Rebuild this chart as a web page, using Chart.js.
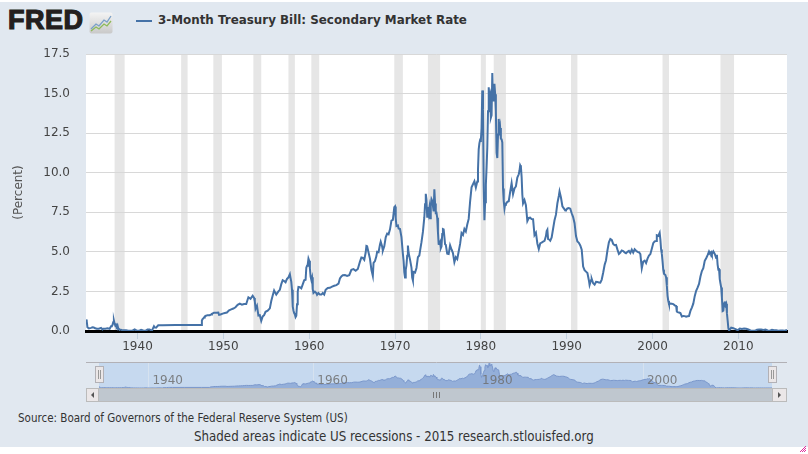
<!DOCTYPE html>
<html>
<head>
<meta charset="utf-8">
<title>3-Month Treasury Bill</title>
<script src="https://cdn.jsdelivr.net/npm/chart.js@4.4.0/dist/chart.umd.min.js"></script>
<style>
  body { margin: 0; background: #fff; width: 808px; height: 454px; overflow: hidden; position: relative; }
  #bg { position: absolute; left: 0; top: 2px; width: 808px; height: 445px; background: #e1e8f0; }
  #main { position: absolute; left: 0; top: 0; }
  #nav { position: absolute; left: 86px; top: 362px; }
  .txt { position: absolute; white-space: nowrap; color: #333; }
</style>
</head>
<body>
<div id="bg"></div>

<div class="txt" style="left:8px;top:5px;font-family:'Liberation Sans';font-weight:bold;font-size:27px;color:#231f20;letter-spacing:0.5px;-webkit-text-stroke:1.2px #231f20">FRED</div>
<svg style="position:absolute;left:89px;top:12px" width="24" height="22">
  <defs><linearGradient id="g" x1="0" y1="0" x2="0" y2="1"><stop offset="0" stop-color="#f4f4f4"/><stop offset="1" stop-color="#c9c9c9"/></linearGradient></defs>
  <rect x="0.5" y="0.5" width="23" height="21" rx="2" fill="url(#g)"/>
  <polyline points="2,17 7,12 10,14 15,8 18,10 22,4" fill="none" stroke="#7aa0c8" stroke-width="1.3"/>
  <polyline points="2,19 7,15 10,17 15,12 18,14 22,9" fill="none" stroke="#8dba5a" stroke-width="1.3"/>
</svg>
<div style="position:absolute;left:136px;top:20px;width:16px;height:2px;background:#4572a7"></div>
<div class="txt" style="left:158px;top:13px;font:bold 11.9px 'DejaVu Sans';color:#333">3-Month Treasury Bill: Secondary Market Rate</div>

<canvas id="main" width="808" height="362"></canvas>
<canvas id="nav" width="701" height="41"></canvas>

<div class="txt" style="left:18px;top:411px;font:11.5px 'DejaVu Sans Condensed';color:#333">Source: Board of Governors of the Federal Reserve System (US)</div>
<div class="txt" style="left:194px;top:429px;font:13.2px 'DejaVu Sans Condensed';color:#333">Shaded areas indicate US recessions - 2015 research.stlouisfed.org</div>
<svg style="position:absolute;left:799px;top:445px" width="8" height="8">
  <path d="M1,7 L7,1 M3,7 L7,3 M5,7 L7,5" stroke="#e0309a" stroke-width="1"/>
</svg>

<script>
// monthly readings (YYYY-MM) and rates in percent
const dates = [
 '1934-01','1934-02','1934-03','1934-05','1934-08','1934-10','1934-12',
 '1935-01','1935-04','1935-07','1935-10','1935-12',
 '1936-01','1936-04','1936-07','1936-10','1936-12',
 '1937-01','1937-02','1937-03','1937-04','1937-05','1937-06','1937-07','1937-08','1937-09','1937-10','1937-11','1937-12',
 '1938-03','1938-06','1938-09','1938-12','1939-03','1939-06','1939-09','1939-12',
 '1940-03','1940-06','1940-09','1940-12','1941-03','1941-06','1941-09','1941-12',
 '1942-01','1942-03','1942-06','1942-08','1942-12','1944-06','1946-06','1947-06',
 '1947-07','1947-08','1947-09','1947-10','1947-11','1947-12',
 '1948-03','1948-06','1948-08','1948-09','1948-12',
 '1949-03','1949-06','1949-07','1949-09','1949-12',
 '1950-03','1950-06','1950-09','1950-12','1951-03','1951-06','1951-09','1951-12',
 '1952-03','1952-06','1952-09','1952-12','1953-03','1953-06','1953-08','1953-09','1953-10','1953-12',
 '1954-02','1954-04','1954-06','1954-08','1954-10','1954-12',
 '1955-03','1955-06','1955-08','1955-10','1955-12','1956-03','1956-06','1956-08','1956-10','1956-12',
 '1957-02','1957-04','1957-06','1957-08','1957-10','1957-11','1957-12',
 '1958-01','1958-02','1958-03','1958-04','1958-05','1958-06','1958-07','1958-08','1958-09','1958-10','1958-12',
 '1959-02','1959-04','1959-06','1959-08','1959-09','1959-10','1959-11','1959-12',
 '1960-01','1960-02','1960-03','1960-04','1960-05','1960-06','1960-07','1960-09','1960-11','1960-12',
 '1961-02','1961-04','1961-06','1961-08','1961-10','1961-12','1962-03','1962-06','1962-09','1962-12',
 '1963-03','1963-06','1963-08','1963-10','1963-12','1964-03','1964-06','1964-09','1964-12',
 '1965-03','1965-06','1965-09','1965-12','1966-02','1966-04','1966-06','1966-08','1966-09','1966-10','1966-12',
 '1967-02','1967-04','1967-06','1967-07','1967-09','1967-11','1967-12',
 '1968-02','1968-04','1968-05','1968-07','1968-08','1968-10','1968-12',
 '1969-02','1969-04','1969-06','1969-08','1969-10','1969-12',
 '1970-01','1970-02','1970-03','1970-05','1970-06','1970-08','1970-10','1970-12',
 '1971-01','1971-02','1971-03','1971-04','1971-05','1971-06','1971-07','1971-08','1971-10','1971-12',
 '1972-01','1972-02','1972-03','1972-05','1972-07','1972-09','1972-11','1972-12',
 '1973-02','1973-04','1973-06','1973-07','1973-08','1973-09','1973-10','1973-11','1973-12',
 '1974-01','1974-02','1974-03','1974-04','1974-05','1974-06','1974-07','1974-08','1974-09','1974-10','1974-11','1974-12',
 '1975-01','1975-02','1975-03','1975-04','1975-05','1975-06','1975-07','1975-08','1975-09','1975-10','1975-11','1975-12',
 '1976-02','1976-04','1976-06','1976-08','1976-10','1976-12','1977-02','1977-04','1977-06','1977-08','1977-10','1977-12',
 '1978-02','1978-04','1978-06','1978-08','1978-10','1978-12',
 '1979-02','1979-04','1979-06','1979-08','1979-09','1979-10','1979-11','1979-12',
 '1980-01','1980-02','1980-03','1980-04','1980-05','1980-06','1980-07','1980-08','1980-09','1980-10','1980-11','1980-12',
 '1981-01','1981-02','1981-03','1981-04','1981-05','1981-06','1981-07','1981-08','1981-09','1981-10','1981-11','1981-12',
 '1982-01','1982-02','1982-03','1982-04','1982-05','1982-06','1982-07','1982-08','1982-09','1982-10','1982-11','1982-12',
 '1983-02','1983-04','1983-06','1983-08','1983-10','1983-12',
 '1984-02','1984-04','1984-06','1984-07','1984-08','1984-09','1984-10','1984-11','1984-12',
 '1985-02','1985-04','1985-06','1985-08','1985-10','1985-12','1986-02','1986-04','1986-06','1986-08','1986-10','1986-12',
 '1987-02','1987-04','1987-06','1987-08','1987-09','1987-10','1987-11','1987-12',
 '1988-02','1988-04','1988-06','1988-08','1988-10','1988-12',
 '1989-02','1989-03','1989-05','1989-07','1989-09','1989-11','1989-12',
 '1990-02','1990-04','1990-06','1990-08','1990-10','1990-12','1991-02','1991-04','1991-06','1991-08','1991-10','1991-12',
 '1992-02','1992-04','1992-06','1992-08','1992-09','1992-11','1992-12','1993-02','1993-04','1993-06','1993-08','1993-10','1993-12',
 '1994-02','1994-04','1994-06','1994-08','1994-10','1994-12','1995-02','1995-04','1995-06','1995-08','1995-10','1995-12',
 '1996-02','1996-04','1996-06','1996-08','1996-10','1996-12','1997-02','1997-04','1997-06','1997-08','1997-10','1997-12',
 '1998-02','1998-04','1998-06','1998-08','1998-10','1998-12','1999-02','1999-04','1999-06','1999-08','1999-10','1999-12',
 '2000-02','2000-04','2000-06','2000-07','2000-09','2000-11','2000-12',
 '2001-01','2001-02','2001-03','2001-04','2001-05','2001-07','2001-08','2001-09','2001-10','2001-11','2001-12',
 '2002-02','2002-04','2002-06','2002-08','2002-10','2002-11','2002-12','2003-02','2003-04','2003-06','2003-08','2003-10','2003-12',
 '2004-02','2004-04','2004-06','2004-08','2004-10','2004-12','2005-02','2005-04','2005-06','2005-08','2005-10','2005-12',
 '2006-02','2006-04','2006-06','2006-08','2006-09','2006-11','2006-12',
 '2007-02','2007-04','2007-06','2007-07','2007-08','2007-09','2007-10','2007-11','2007-12',
 '2008-01','2008-02','2008-03','2008-04','2008-05','2008-06','2008-07','2008-08','2008-09','2008-10','2008-11','2008-12',
 '2009-03','2009-06','2009-09','2009-12','2010-03','2010-06','2010-09','2010-12','2011-03','2011-06','2011-09','2011-12',
 '2012-03','2012-06','2012-09','2012-12','2013-03','2013-06','2013-09','2013-12','2014-03','2014-06','2014-09','2014-12',
 '2015-03','2015-06','2015-09'
];
const rates = [
 0.72,0.62,0.24,0.16,0.20,0.23,0.22,
 0.19,0.15,0.15,0.20,0.10,
 0.15,0.15,0.17,0.14,0.30,
 0.31,0.38,0.55,0.66,0.46,0.34,0.40,0.29,0.37,0.18,0.12,0.10,
 0.07,0.05,0.04,0.01,0.01,0.02,0.10,0.02,
 0.01,0.08,0.03,0.01,0.09,0.10,0.01,0.30,
 0.23,0.21,0.36,0.37,0.36,0.375,0.375,0.38,
 0.66,0.75,0.80,0.85,0.92,0.95,
 1.00,1.00,1.05,1.09,1.16,
 1.16,1.17,1.02,1.04,1.10,
 1.14,1.17,1.31,1.37,1.42,1.50,1.65,1.73,
 1.66,1.70,1.71,2.13,2.03,2.23,2.09,1.88,1.40,1.60,
 0.98,1.00,0.64,0.92,1.00,1.21,
 1.28,1.43,1.89,2.24,2.56,2.30,2.50,2.60,2.96,3.21,
 3.16,3.08,3.29,3.38,3.59,3.33,3.10,
 2.60,1.56,1.30,1.13,1.05,0.88,0.96,1.69,2.48,2.79,2.77,
 2.70,2.95,3.20,3.24,4.00,4.12,4.21,4.57,
 4.44,3.95,3.44,3.24,3.39,2.64,2.40,2.49,2.39,2.29,
 2.40,2.30,2.30,2.40,2.30,2.60,2.72,2.73,2.80,2.86,
 2.90,2.99,3.32,3.45,3.52,3.54,3.48,3.53,3.86,
 3.91,3.81,3.92,4.38,4.65,4.62,4.50,4.96,5.37,5.35,4.96,
 4.56,3.87,3.48,4.31,4.42,4.73,5.01,
 4.98,5.47,5.64,5.34,5.08,5.35,5.92,
 6.15,6.11,6.42,6.97,7.02,7.82,
 7.87,7.13,6.63,6.67,6.48,6.44,5.93,4.87,
 4.44,3.70,3.38,3.86,4.14,4.75,5.40,4.94,4.51,4.01,
 3.38,3.20,3.73,3.69,3.98,4.66,4.77,5.06,
 5.61,6.26,7.19,8.01,8.67,8.29,7.22,7.83,7.45,
 7.77,7.12,7.96,8.33,8.23,7.90,7.55,8.96,8.06,7.46,7.47,7.15,
 6.26,5.50,5.49,5.61,5.23,5.34,6.13,6.44,6.42,5.96,5.48,5.44,
 4.88,4.86,5.41,5.15,4.92,4.35,4.66,4.54,5.02,5.50,6.19,6.07,
 6.45,6.29,6.73,7.08,8.19,9.08,
 9.27,9.46,9.06,9.45,10.18,11.47,11.87,12.07,
 12.04,12.81,15.20,14.00,9.15,7.00,8.13,9.26,10.32,11.58,13.89,15.40,
 14.72,14.90,13.48,13.63,16.30,14.56,14.70,15.61,14.95,13.87,11.27,10.93,
 12.41,13.40,12.49,12.82,12.15,12.11,11.91,9.01,8.20,7.75,8.04,8.01,
 8.16,8.20,8.79,9.34,8.64,9.00,
 9.13,9.69,9.90,10.12,10.47,10.37,9.74,8.61,8.06,
 8.27,7.95,6.95,7.14,7.16,7.07,7.06,6.06,6.21,5.53,5.18,5.53,
 5.59,5.64,5.69,6.00,6.32,6.40,5.81,5.80,
 5.70,5.91,6.46,7.00,7.35,8.07,
 8.53,8.82,8.43,7.88,7.75,7.62,7.64,
 7.74,7.77,7.73,7.44,7.20,6.81,6.00,5.65,5.57,5.40,5.14,4.07,
 3.84,3.75,3.66,3.21,2.91,3.21,3.29,3.02,2.93,3.10,3.09,3.07,3.06,
 3.25,3.68,4.17,4.47,5.10,5.60,5.81,5.75,5.50,5.42,5.44,5.14,
 4.87,4.95,5.09,5.05,4.97,4.91,5.00,5.06,4.93,5.14,4.95,5.16,
 5.07,5.00,4.98,4.86,3.96,4.39,4.45,4.29,4.57,4.76,4.86,5.20,
 5.55,5.66,5.69,6.04,6.00,6.20,5.77,
 5.15,4.88,4.42,3.87,3.62,3.54,3.39,2.87,2.22,1.91,1.72,
 1.73,1.72,1.70,1.62,1.58,1.23,1.19,1.17,1.13,0.92,0.95,0.94,0.90,
 0.93,0.94,1.27,1.48,1.73,2.20,2.54,2.74,2.97,3.44,3.79,3.97,
 4.43,4.60,4.79,5.02,4.93,5.00,4.85,
 5.03,4.87,4.61,4.82,4.20,3.89,3.90,3.27,3.00,
 2.75,2.12,1.26,1.29,1.73,1.86,1.63,1.72,1.13,0.67,0.19,0.03,
 0.21,0.18,0.12,0.05,0.15,0.12,0.15,0.14,0.10,0.04,0.01,0.01,
 0.08,0.09,0.10,0.07,0.09,0.04,0.02,0.07,0.05,0.04,0.02,0.03,
 0.03,0.02,0.07
];

// NBER recessions, start / end month
const recessionStarts = ['1937-05','1945-02','1948-11','1953-07','1957-08','1960-04','1969-12','1973-11','1980-01','1981-07','1990-07','2001-03','2007-12'];
const recessionEnds   = ['1938-06','1945-10','1949-10','1954-05','1958-04','1961-02','1970-11','1975-03','1980-07','1982-11','1991-03','2001-11','2009-06'];

const xTicks = [1940, 1950, 1960, 1970, 1980, 1990, 2000, 2010];
const yTicks = [0, 2.5, 5, 7.5, 10, 12.5, 15, 17.5];
const navTicks = [1940, 1960, 1980, 2000];

function toYear(s) {
  const p = s.split('-');
  return +p[0] + (+p[1] - 1) / 12;
}
const points = dates.map((d, i) => ({ x: toYear(d), y: rates[i] }));
const xMin = toYear(dates[0]);
const xMax = toYear(dates[dates.length - 1]);

const plotBg = {
  id: 'plotBg',
  beforeDraw(chart) {
    const ctx = chart.ctx, a = chart.chartArea, xs = chart.scales.x;
    ctx.save();
    ctx.fillStyle = '#fff';
    ctx.fillRect(a.left, a.top, a.right - a.left, a.bottom - a.top);
    ctx.fillStyle = '#e6e6e6';
    recessionStarts.forEach((s, i) => {
      const x0 = xs.getPixelForValue(toYear(s));
      const x1 = xs.getPixelForValue(toYear(recessionEnds[i]) + 1 / 12);
      ctx.fillRect(x0, a.top, x1 - x0, a.bottom - a.top);
    });
    ctx.restore();
  }
};

new Chart(document.getElementById('main'), {
  type: 'line',
  data: { datasets: [{ data: points, borderColor: '#4572a7', borderWidth: 2, pointRadius: 0, tension: 0, fill: false }] },
  options: {
    responsive: false, animation: false,
    layout: { padding: { top: 54, right: 21, left: 0, bottom: 0 } },
    plugins: { legend: { display: false }, tooltip: { enabled: false } },
    scales: {
      x: {
        type: 'linear', min: xMin, max: xMax,
        afterFit(s) { s.height = 31; },
        afterBuildTicks(s) { s.ticks = xTicks.map(v => ({ value: v })); },
        grid: { drawOnChartArea: false, drawTicks: true, tickLength: 8, color: '#c0d0e0' },
        border: { display: true, color: '#000', width: 3 },
        ticks: { padding: 1, color: '#444', font: { family: 'DejaVu Sans', size: 12 }, maxRotation: 0, callback: v => String(v) }
      },
      y: {
        min: 0, max: 17.5,
        afterFit(s) { s.width = 86; },
        afterBuildTicks(s) { s.ticks = yTicks.map(v => ({ value: v })); },
        grid: { color: '#d8d8d8', drawTicks: false },
        border: { display: false },
        ticks: { padding: 16, color: '#444', font: { family: 'DejaVu Sans', size: 12 }, callback: v => v.toFixed(1) },
        title: { display: true, text: '(Percent)', color: '#555', font: { family: 'DejaVu Sans', size: 12 }, padding: { top: 12, bottom: 0 } }
      }
    }
  },
  plugins: [plotBg]
});

const navDecor = {
  id: 'navDecor',
  beforeDraw(chart) {
    const ctx = chart.ctx, a = chart.chartArea, xs = chart.scales.x;
    ctx.save();
    ctx.fillStyle = '#c6d9ef';
    ctx.fillRect(a.left, a.top, a.right - a.left, a.bottom - a.top);
    ctx.strokeStyle = '#d6e2ef';
    ctx.lineWidth = 1;
    navTicks.forEach(v => {
      const x = Math.round(xs.getPixelForValue(v)) + 0.5;
      ctx.beginPath(); ctx.moveTo(x, a.top); ctx.lineTo(x, a.bottom); ctx.stroke();
    });
    ctx.restore();
  },
  afterDraw(chart) {
    const ctx = chart.ctx, a = chart.chartArea, xs = chart.scales.x;
    const W = chart.width;
    ctx.save();
    // year labels
    ctx.fillStyle = 'rgba(110,110,110,0.85)';
    ctx.font = '12px "DejaVu Sans"';
    ctx.textBaseline = 'alphabetic';
    navTicks.forEach(v => ctx.fillText(String(v), xs.getPixelForValue(v) + 4, a.top + 21));
    // outline top
    ctx.strokeStyle = '#b2b1b6';
    ctx.beginPath(); ctx.moveTo(0, a.top - 0.5); ctx.lineTo(W, a.top - 0.5); ctx.stroke();
    // scrollbar
    const sy = a.bottom, sh = 14;
    ctx.fillStyle = '#bfc7cf';
    ctx.fillRect(a.left, sy, a.right - a.left, sh);
    ctx.strokeStyle = '#bbb';
    ctx.strokeRect(0.5, sy + 0.5, W - 1, sh - 1);
    [[0, a.left], [a.right, W]].forEach(([x0, x1], k) => {
      ctx.fillStyle = '#ebe7e8';
      ctx.fillRect(x0 + 0.5, sy + 0.5, x1 - x0 - 1, sh - 1);
      ctx.strokeRect(x0 + 0.5, sy + 0.5, x1 - x0 - 1, sh - 1);
      const cx = (x0 + x1) / 2, cy = sy + sh / 2;
      ctx.fillStyle = '#555';
      ctx.beginPath();
      if (k === 0) { ctx.moveTo(cx + 1.5, cy - 3); ctx.lineTo(cx - 1.5, cy); ctx.lineTo(cx + 1.5, cy + 3); }
      else { ctx.moveTo(cx - 1.5, cy - 3); ctx.lineTo(cx + 1.5, cy); ctx.lineTo(cx - 1.5, cy + 3); }
      ctx.fill();
    });
    // grip
    const gx = Math.round((a.left + a.right) / 2);
    ctx.strokeStyle = '#777';
    [-3, 0, 3].forEach(d => {
      ctx.beginPath(); ctx.moveTo(gx + d + 0.5, sy + 4); ctx.lineTo(gx + d + 0.5, sy + 10); ctx.stroke();
    });
    // handles
    [a.left, a.right].forEach(x => {
      const hx = Math.round(x) - 4;
      ctx.fillStyle = '#ebe7e8';
      ctx.strokeStyle = '#b2b1b6';
      ctx.fillRect(hx + 0.5, a.top + 3.5, 8, 16);
      ctx.strokeRect(hx + 0.5, a.top + 3.5, 8, 16);
      ctx.strokeStyle = '#999';
      [3, 5].forEach(d => {
        ctx.beginPath(); ctx.moveTo(hx + d + 0.5, a.top + 7); ctx.lineTo(hx + d + 0.5, a.top + 16); ctx.stroke();
      });
    });
    ctx.restore();
  }
};

new Chart(document.getElementById('nav'), {
  type: 'line',
  data: { datasets: [{ data: points, borderColor: '#7b98cc', backgroundColor: '#94afd9', borderWidth: 1, pointRadius: 0, fill: 'origin' }] },
  options: {
    responsive: false, animation: false,
    layout: { padding: { top: 1, right: 15, left: 13, bottom: 15 } },
    plugins: { legend: { display: false }, tooltip: { enabled: false } },
    scales: {
      x: { type: 'linear', min: xMin, max: xMax, display: false },
      y: { min: 0, max: 16.5, display: false }
    }
  },
  plugins: [navDecor]
});
</script>
</body>
</html>
